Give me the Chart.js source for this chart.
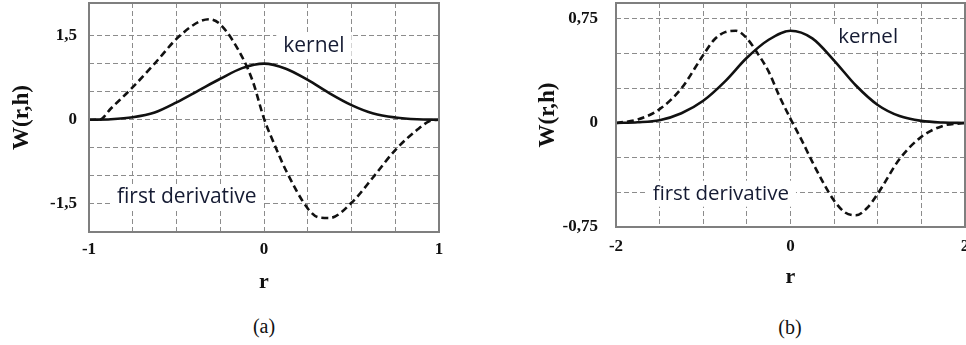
<!DOCTYPE html>
<html>
<head>
<meta charset="utf-8">
<script src="https://cdn.jsdelivr.net/npm/chart.js@4.4.1/dist/chart.umd.min.js"></script>
<style>
  body { margin: 0; width: 966px; height: 345px; overflow: hidden; position: relative; background: #fff; }
  canvas { position: absolute; top: 0; }
  #chartA { left: 0; }
  #chartB { left: 480px; }
  .caption { position: absolute; font-family: "Liberation Serif", serif; font-size: 20px; color: #111; transform: translate(-50%, -50%); }
</style>
</head>
<body>
<canvas id="chartA" width="480" height="302"></canvas>
<canvas id="chartB" width="520" height="302"></canvas>
<div class="caption" style="left:264px; top:326px">(a)</div>
<div class="caption" style="left:790px; top:327px">(b)</div>
<script>
// (a) support -1..1
const rA = [-1, -0.875, -0.75, -0.625, -0.5, -0.375, -0.25, -0.125, 0, 0.125, 0.25, 0.375, 0.5, 0.625, 0.75, 0.875, 1];
const kernelA = [0, 0.01, 0.045, 0.13, 0.31, 0.52, 0.73, 0.92, 1.0, 0.91, 0.71, 0.47, 0.26, 0.11, 0.04, 0.008, 0];
const rDerivA = [-1, -0.94, -0.875, -0.75, -0.625, -0.5, -0.375, -0.3125, -0.25, -0.125, -0.0625, 0, 0.0625, 0.125, 0.25, 0.3125, 0.375, 0.5, 0.625, 0.75, 0.875, 0.95, 1];
const derivA = [0, 0, 0.2, 0.58, 1.0, 1.44, 1.74, 1.79, 1.7, 1.12, 0.67, 0.02, -0.46, -0.9, -1.58, -1.74, -1.75, -1.48, -1.02, -0.54, -0.18, -0.02, 0];
const xGridA = [-1, -0.75, -0.5, -0.25, 0, 0.25, 0.5, 0.75, 1];
const yGridA = [-2, -1.5, -1, -0.5, 0, 0.5, 1, 1.5];
const xTicksA = [-1, 0, 1];
const xLabelsA = ['-1', '0', '1'];
const yTicksA = [-1.5, 0, 1.5];
const yLabelsA = ['-1,5', '0', '1,5'];

// (b) support -2..2
const rB = [-2, -1.75, -1.5, -1.25, -1, -0.75, -0.5, -0.25, 0, 0.25, 0.5, 0.75, 1, 1.25, 1.5, 1.75, 2];
const kernelB = [0, 0.005, 0.02, 0.07, 0.16, 0.3, 0.47, 0.6, 0.665, 0.61, 0.45, 0.27, 0.13, 0.05, 0.015, 0.003, 0];
const rDerivB = [-2, -1.75, -1.5, -1.25, -1, -0.875, -0.75, -0.625, -0.5, -0.375, -0.25, -0.125, 0, 0.125, 0.25, 0.375, 0.5, 0.625, 0.75, 0.875, 1, 1.25, 1.5, 1.75, 2];
const derivB = [0, 0.025, 0.1, 0.25, 0.49, 0.6, 0.655, 0.665, 0.61, 0.5, 0.37, 0.19, 0.03, -0.12, -0.28, -0.43, -0.56, -0.645, -0.665, -0.615, -0.51, -0.26, -0.1, -0.02, 0];
const xGridB = [-2, -1.5, -1, -0.5, 0, 0.5, 1, 1.5, 2];
const yGridB = [-0.75, -0.5, -0.25, 0, 0.25, 0.5, 0.75];
const xTicksB = [-2, 0, 2];
const xLabelsB = ['-2', '0', '2'];
const yTicksB = [-0.75, 0, 0.75];
const yLabelsB = ['-0,75', '0', '0,75'];

const gridColor = '#8c8c8c';
const inkColor = '#111111';
const noteColor = '#151b33';

const toPoints = (xs, ys) => xs.map((x, i) => ({x: x, y: ys[i]}));

const pickLabel = (values, labels) => (v) => {
  const i = values.findIndex(t => Math.abs(t - v) < 1e-9);
  return i < 0 ? '' : labels[i];
};

// white boxes behind the notes, frame round the plot, then the notes
const frameAndNotes = {
  id: 'frameAndNotes',
  beforeDatasetsDraw(chart, args, opts) {
    const {ctx, scales: {x, y}} = chart;
    ctx.save();
    ctx.font = opts.font;
    ctx.fillStyle = '#fff';
    opts.notes.forEach(n => {
      const px = x.getPixelForValue(n.x);
      const py = y.getPixelForValue(n.y);
      const w = ctx.measureText(n.text).width;
      ctx.fillRect(px - 7, py - 13, w + 14, 26);
    });
    ctx.restore();
  },
  afterDatasetsDraw(chart, args, opts) {
    const {ctx, chartArea: {left, top, right, bottom}, scales: {x, y}} = chart;
    ctx.save();
    ctx.strokeStyle = '#7f7f7f';
    ctx.lineWidth = 2;
    ctx.strokeRect(left, top, right - left, bottom - top);
    ctx.font = opts.font;
    ctx.fillStyle = noteColor;
    ctx.textAlign = 'left';
    ctx.textBaseline = 'middle';
    opts.notes.forEach(n => ctx.fillText(n.text, x.getPixelForValue(n.x), y.getPixelForValue(n.y)));
    ctx.restore();
  }
};

function makeConfig(s) {
  return {
    type: 'line',
    data: {
      datasets: [{
        label: 'kernel',
        data: toPoints(s.r, s.kernel),
        borderColor: '#111',
        borderWidth: 2.6,
        pointRadius: 0,
        cubicInterpolationMode: 'monotone',
        fill: false
      }, {
        label: 'first derivative',
        data: toPoints(s.rDeriv, s.deriv),
        borderColor: '#111',
        borderWidth: 2.6,
        borderDash: [7, 4],
        pointRadius: 0,
        cubicInterpolationMode: 'monotone',
        fill: false
      }]
    },
    options: {
      responsive: false,
      animation: false,
      layout: { padding: { left: 0, top: s.top, right: s.padRight, bottom: 0 } },
      plugins: {
        legend: { display: false },
        tooltip: { enabled: false },
        frameAndNotes: { font: s.noteFont, notes: s.notes }
      },
      scales: {
        x: {
          type: 'linear',
          min: s.xMin,
          max: s.xMax,
          afterBuildTicks(scale) { scale.ticks = s.xGrid.map(v => ({value: v})); },
          afterFit(scale) { scale.height = s.xHeight; scale.paddingLeft = 0; scale.paddingRight = 0; },
          grid: { color: gridColor, lineWidth: 1, drawTicks: false },
          border: { display: false, dash: [5, 3] },
          ticks: {
            autoSkip: false,
            maxRotation: 0,
            padding: s.xTickPad,
            color: inkColor,
            font: { family: 'Liberation Serif', size: 17, weight: 'bold' },
            callback: pickLabel(s.xTicks, s.xLabels)
          },
          title: {
            display: true,
            text: 'r',
            color: inkColor,
            font: { family: 'Liberation Serif', size: 22, weight: 'bold' },
            padding: { top: 0, bottom: s.xTitlePad }
          }
        },
        y: {
          min: s.yMin,
          max: s.yMax,
          afterBuildTicks(scale) { scale.ticks = s.yGrid.map(v => ({value: v})); },
          afterFit(scale) { scale.width = s.yWidth; scale.paddingTop = 0; scale.paddingBottom = 0; },
          grid: { color: gridColor, lineWidth: 1, drawTicks: false },
          border: { display: false, dash: [5, 3] },
          ticks: {
            autoSkip: false,
            padding: s.yTickPad,
            color: inkColor,
            font: { family: 'Liberation Serif', size: 17, weight: 'bold' },
            callback: pickLabel(s.yTicks, s.yLabels)
          },
          title: {
            display: true,
            text: 'W(r,h)',
            color: inkColor,
            font: { family: 'Liberation Serif', size: 23, weight: 'bold' },
            padding: { top: s.yTitlePad, bottom: 0 }
          }
        }
      }
    },
    plugins: [frameAndNotes]
  };
}

const configA = makeConfig({
  r: rA, kernel: kernelA, rDeriv: rDerivA, deriv: derivA,
  xMin: -1, xMax: 1, xGrid: xGridA, xTicks: xTicksA, xLabels: xLabelsA,
  yMin: -2, yMax: 2.08, yGrid: yGridA, yTicks: yTicksA, yLabels: yLabelsA,
  top: 3, padRight: 41, yWidth: 89, xHeight: 70,
  xTickPad: 7, xTitlePad: 6, yTickPad: 12, yTitlePad: 8,
  noteFont: '21px "Open Sans"',
  notes: [
    { text: 'kernel', x: 0.11, y: 1.31 },
    { text: 'first derivative', x: -0.84, y: -1.38 }
  ]
});

const configB = makeConfig({
  r: rB, kernel: kernelB, rDeriv: rDerivB, deriv: derivB,
  xMin: -2, xMax: 2, xGrid: xGridB, xTicks: xTicksB, xLabels: xLabelsB,
  yMin: -0.75, yMax: 0.865, yGrid: yGridB, yTicks: yTicksB, yLabels: yLabelsB,
  top: 3, padRight: 35, yWidth: 136, xHeight: 75,
  xTickPad: 9, xTitlePad: 11, yTickPad: 18, yTitlePad: 54,
  noteFont: '20.5px "Open Sans"',
  notes: [
    { text: 'kernel', x: 0.546, y: 0.62 },
    { text: 'first derivative', x: -1.58, y: -0.51 }
  ]
});

var chartA = new Chart(document.getElementById('chartA').getContext('2d'), configA);
var chartB = new Chart(document.getElementById('chartB').getContext('2d'), configB);
</script>
</body>
</html>
